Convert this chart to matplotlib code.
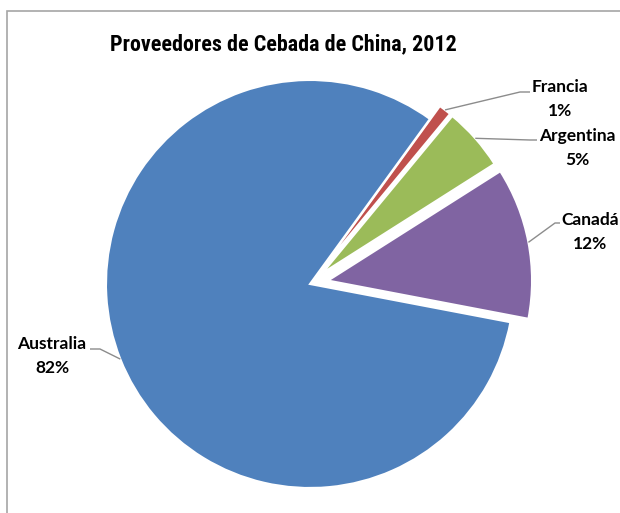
import matplotlib.pyplot as plt
import numpy as np
from matplotlib.patches import Rectangle
from matplotlib import font_manager

# datos (porcentaje de importaciones de cebada)
paises = ['Francia', 'Argentina', 'Canadá', 'Australia']
porcentajes = [1, 5, 12, 82]
colores = ['#C0504D', '#9BBB59', '#8064A2', '#4F81BD']
explosion = [0.08, 0.08, 0.09, 0.0]

W, H = 620, 513
cx, cy, R = 310, 284, 204.0

def px(x, y):
    # pixel de la imagen -> coordenadas de datos
    return (x - cx) / R, (cy - y) / R

fig = plt.figure(figsize=(W / 100, H / 100), dpi=100)
ax = fig.add_axes([0, 0, 1, 1])

wedges, _ = ax.pie(porcentajes, colors=colores, explode=explosion,
                   startangle=54, counterclock=False, radius=1,
                   wedgeprops=dict(edgecolor='white', linewidth=1.5))

ax.set_xlim(-cx / R, (W - cx) / R)
ax.set_ylim((cy - H) / R, cy / R)
ax.set_aspect('auto')
ax.axis('off')

# posiciones de etiquetas (pixeles) y codo de la linea guia
etiquetas_pos = [(560, 99), (577, 148), (590, 232), (52, 356)]
codos = [((520, 92), (530, 92)), ((530, 140), (537, 140)),
         ((555, 223), (560, 223)), ((100, 349), (90, 349))]

fuente = ['Lato', 'DejaVu Sans']
for w, nombre, p, pos, codo, ex in zip(wedges, paises, porcentajes,
                                       etiquetas_pos, codos, explosion):
    ang = np.deg2rad((w.theta1 + w.theta2) / 2)
    r = 1 + ex
    ancla = (r * np.cos(ang), r * np.sin(ang))
    c1 = px(*codo[0])
    c2 = px(*codo[1])
    ax.plot([ancla[0], c1[0], c2[0]], [ancla[1], c1[1], c2[1]],
            color='#8C8C8C', linewidth=1, solid_capstyle='butt')
    tx, ty = px(*pos)
    ax.text(tx, ty, f'{nombre}\n{p}%', ha='center', va='center',
            fontsize=12.5, fontweight='bold', family=fuente,
            linespacing=1.55, color='black')

# titulo: fuente estrecha si existe
nombres = {f.name for f in font_manager.fontManager.ttflist}
fam_titulo = 'Liberation Sans'
for cand in ['Liberation Sans Narrow', 'Roboto Condensed', 'Open Sans Condensed', 'Roboto']:
    if cand in nombres:
        fam_titulo = cand
        break

titulo = fig.text(283 / W, 1 - 44 / H, 'Proveedores de Cebada de China, 2012',
                  ha='center', va='center', fontsize=17, fontweight='bold',
                  family=fam_titulo)
fig.canvas.draw()
ancho = titulo.get_window_extent().width
titulo.set_fontsize(17 * 345 / ancho)

fig.patches.append(Rectangle((7 / W, -0.1), 1.1, 1 - 11 / H + 0.1,
                             transform=fig.transFigure, fill=False,
                             edgecolor='#A6A6A6', linewidth=1.2))

fig.savefig('out.png', dpi=100)
